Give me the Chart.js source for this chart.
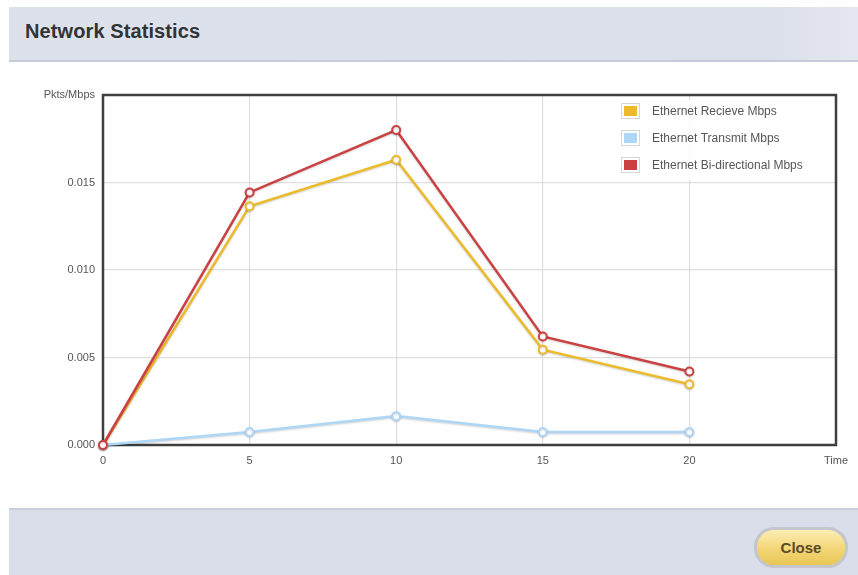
<!DOCTYPE html>
<html>
<head>
<meta charset="utf-8">
<script src="https://cdn.jsdelivr.net/npm/chart.js@4"></script>
<style>
    html, body { margin: 0; padding: 0; background: #fff; width: 858px; height: 575px; overflow: hidden; }
    body { position: relative; font-family: "Liberation Sans", Arial, sans-serif; }
    .header {
        position: absolute; left: 9px; top: 7px; width: 849px; height: 53px;
        background: linear-gradient(to right, #dde1ec 0%, #dce0eb 90%, #e4e7ef 100%);
        border-bottom: 2px solid #c6cbd9;
    }
    .header h1 {
        margin: 0; position: absolute; left: 16px; top: 13px;
        font-size: 20px; font-weight: bold; color: #333; letter-spacing: 0.1px;
    }
    .body { position: absolute; left: 9px; top: 62px; width: 849px; height: 446px; background: #fff; }
    .footer {
        position: absolute; left: 9px; top: 508px; width: 849px; height: 66px;
        background: #dadeea; border-top: 2px solid #c9cedb;
    }
    .close {
        position: absolute; left: 745px; top: 17px; width: 88px; height: 35px;
        border-radius: 20px; border: 3px solid #c4c6cc;
        background: linear-gradient(to bottom, #fbeeb4 0%, #f3d77a 50%, #e9c654 100%);
        font-size: 15px; font-weight: bold; color: #5b4b2b; text-align: center; line-height: 35px;
    }
    #chart { position: absolute; left: 0; top: 0; }
</style>
</head>
<body>
<div class="header"><h1>Network Statistics</h1></div>
<div class="body"><canvas id="chart" width="849" height="446"></canvas></div>
<div class="footer"><div class="close">Close</div></div>
<script>
// values
const timeTicks = [0, 5, 10, 15, 20];
const receiveMbps = [0, 0.01364, 0.0163, 0.00545, 0.00347];
const transmitMbps = [0, 0.00074, 0.00165, 0.00074, 0.00074];
const bidirMbps = [0, 0.01443, 0.018, 0.0062, 0.0042];
const seriesNames = ['Ethernet Recieve Mbps', 'Ethernet Transmit Mbps', 'Ethernet Bi-directional Mbps'];
const seriesColors = ['#ecbb2c', '#aed6f6', '#cb4142'];

function toPoints(values) {
    return timeTicks.map((t, i) => ({x: t, y: values[i]}));
}

function makeSet(i, values) {
    return {
        label: seriesNames[i],
        data: toPoints(values),
        borderColor: seriesColors[i],
        backgroundColor: '#fff',
        borderWidth: 2.5,
        pointRadius: 4,
        pointBorderWidth: 2,
        pointBackgroundColor: '#fff',
        pointBorderColor: seriesColors[i],
        tension: 0,
        clip: false,
        order: 3 - i   // later series drawn on top, like the original
    };
}

// frame drawn before the lines so the origin markers sit on top
const box = {
    id: 'box',
    beforeDatasetsDraw(chart) {
        const a = chart.chartArea;
        const c = chart.ctx;
        c.save();
        c.strokeStyle = '#3f3f3f';
        c.lineWidth = 2.5;
        c.strokeRect(a.left, a.top, a.right - a.left, a.bottom - a.top);
        c.restore();
    }
};

// shadows under the lines + legend inside the plot
const frame = {
    id: 'frame',
    beforeDatasetsDraw(chart) {
        const c = chart.ctx;
        c.save();
        c.shadowColor = 'rgba(0,0,0,0.18)';
        c.shadowBlur = 2;
        c.shadowOffsetY = 1;
    },
    afterDatasetsDraw(chart) {
        chart.ctx.restore();
    },
    afterDraw(chart) {
        const a = chart.chartArea;
        const c = chart.ctx;
        c.save();
        let x = a.right - 215, y = a.top + 8;
        c.fillStyle = 'rgba(255,255,255,0.85)';
        c.fillRect(x - 4, y - 3, 212, 80);
        c.font = '12px "Liberation Sans", Arial, sans-serif';
        c.textBaseline = 'middle';
        chart.data.datasets.forEach((ds, i) => {
            const yy = y + i * 27;
            c.fillStyle = '#fff';
            c.strokeStyle = '#d6d6d6';
            c.lineWidth = 1;
            c.fillRect(x, yy, 19, 16);
            c.strokeRect(x + 0.5, yy + 0.5, 18, 15);
            c.fillStyle = ds.borderColor;
            c.fillRect(x + 3, yy + 3, 13, 10);
            c.fillStyle = '#555';
            c.fillText(ds.label, x + 31, yy + 9);
        });
        c.restore();
    }
};

new Chart(document.getElementById('chart').getContext('2d'), {
    type: 'line',
    data: {
        datasets: [
            makeSet(0, receiveMbps),
            makeSet(1, transmitMbps),
            makeSet(2, bidirMbps)
        ]
    },
    options: {
        responsive: false,
        animation: false,
        layout: {padding: {top: 33, right: 22, left: 0, bottom: 0}},
        plugins: {legend: {display: false}, tooltip: {enabled: false}},
        scales: {
            x: {
                type: 'linear', min: 0, max: 25,
                ticks: {
                    stepSize: 5, padding: 9, color: '#555',
                    font: {size: 11, family: '"Liberation Sans", Arial, sans-serif'},
                    maxRotation: 0,
                    callback: v => v === 25 ? 'Time' : v
                },
                grid: {color: '#dedede', lineWidth: 1.2, drawTicks: false},
                border: {display: false},
                afterFit: s => { s.height = 63; }
            },
            y: {
                min: 0, max: 0.02,
                ticks: {
                    stepSize: 0.005, padding: 8, color: '#555',
                    font: {size: 11, family: '"Liberation Sans", Arial, sans-serif'},
                    callback: v => Math.abs(v - 0.02) < 1e-9 ? 'Pkts/Mbps' : v.toFixed(3)
                },
                grid: {color: '#dedede', lineWidth: 1.2, drawTicks: false},
                border: {display: false},
                afterFit: s => { s.width = 94; }
            }
        }
    },
    plugins: [box, frame]
});
</script>
</body>
</html>
